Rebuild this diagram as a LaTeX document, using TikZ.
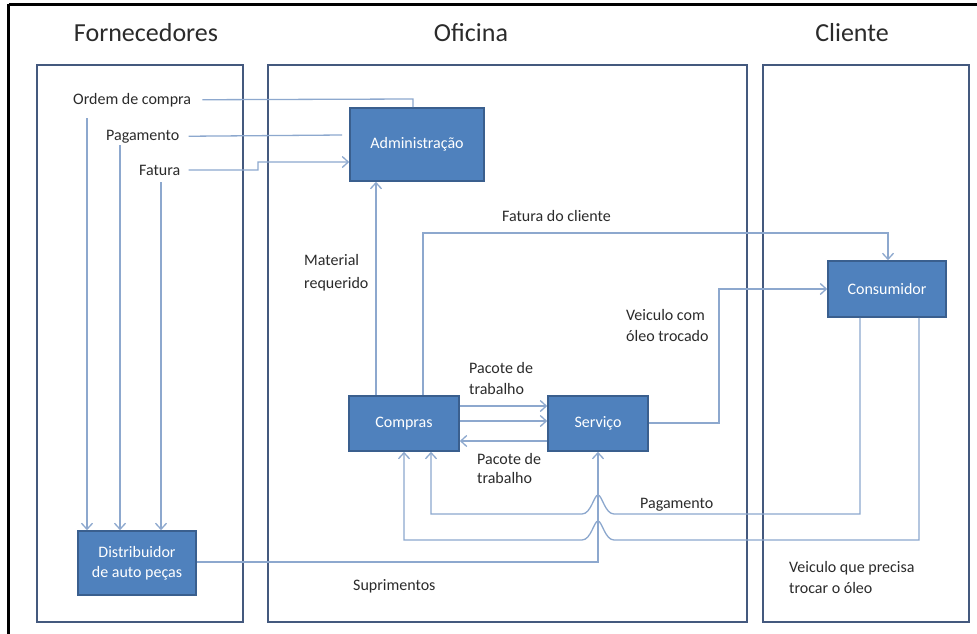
\documentclass[tikz,border=0pt]{standalone}
\usepackage{fontspec}
\setmainfont{Carlito}
\usetikzlibrary{arrows.meta}
\definecolor{framec}{HTML}{44597E}
\definecolor{boxfill}{HTML}{4F81BD}
\definecolor{boxline}{HTML}{3A5F8E}
\definecolor{linec}{HTML}{8DA8CE}
\definecolor{txt}{HTML}{2B2B2B}
\begin{document}
\begin{tikzpicture}[x=1pt,y=-1pt,
  frame/.style={draw=framec,line width=2.6pt},
  box/.style={draw=boxline,fill=boxfill,line width=1.6pt,text=white,font=\fontsize{16}{20}\selectfont,align=center,inner sep=0pt},
  conn/.style={draw=linec,line width=1.3pt},
  arr/.style={conn,-{Straight Barb[length=6pt,width=11pt]}},
  lbl/.style={text=txt,font=\fontsize{16}{20}\selectfont,inner sep=0pt,anchor=base west},
  ttl/.style={text=txt,font=\fontsize{26}{30}\selectfont,inner sep=0pt,anchor=base}]
\useasboundingbox (0,0) rectangle (977,634);
\fill[white] (0,0) rectangle (977,634);
% outer black border
\draw[line width=3pt] (8.5,4.5) -- (977,4.5);
\draw[line width=3pt] (8.5,4.5) -- (8.5,634);
% titles
\node[ttl] (tforn) at (146,42) {Fornecedores};
\node[ttl] (tofi) at (471,42) {Oficina};
\node[ttl] (tcli) at (852,42) {Cliente};
% frames
\draw[frame] (37,65) rectangle (243,622);
\draw[frame] (268,65) rectangle (747,622);
\draw[frame] (763,65) rectangle (969,622);
% boxes
\node[box,minimum width=134pt,minimum height=73pt] (adm) at (417,144.5) {Administração};
\node[box,minimum width=110pt,minimum height=55pt] (comp) at (404,423.5) {Compras};
\node[box,minimum width=100pt,minimum height=55pt] (serv) at (598,423.5) {Serviço};
\node[box,minimum width=118pt,minimum height=56pt] (cons) at (887,289) {Consumidor};
\node[box,minimum width=118pt,minimum height=64pt] (dist) at (137,563) {Distribuidor\\de auto peças};
% labels
\node[lbl] (ordem) at (73,104) {Ordem de compra};
\node[lbl] (pag) at (106,140) {Pagamento};
\node[lbl] (fat) at (139,175) {Fatura};
\node[lbl] (mat1) at (304,265) {Material};
\node[lbl] (mat2) at (304,288) {requerido};
\node[lbl] (fcli) at (502,221) {Fatura do cliente};
\node[lbl] (vc1) at (626,320) {Veiculo com};
\node[lbl] (vc2) at (626,341) {óleo trocado};
\node[lbl] (pa1) at (469,373) {Pacote de};
\node[lbl] (pa2) at (469,394) {trabalho};
\node[lbl] (pb1) at (477,464) {Pacote de};
\node[lbl] (pb2) at (477,483) {trabalho};
\node[lbl] (pagc) at (640,508) {Pagamento};
\node[lbl] (vq1) at (789,572) {Veiculo que precisa};
\node[lbl] (vq2) at (789,593) {trocar o óleo};
\node[lbl] (sup) at (353,590) {Suprimentos};
% helper coordinates
\coordinate (o1) at (87,118);
\coordinate (p1) at (120,145);
\coordinate (f1) at (161,182);
\coordinate (pend) at (342,135);
% supplier connectors
\draw[conn] ([xshift=11pt]ordem.east) -- (413,99) -- (adm.north -| 413,0);
\draw[conn] ([xshift=9pt]pag.east) -- (pend);
\draw[arr] ([xshift=8pt]fat.east) -- (258,170) -- (258,162) -- (adm.west |- 0,162);
\draw[arr] (o1) -- (dist.north -| o1);
\draw[arr] (p1) -- (dist.north -| p1);
\draw[arr] (f1) -- (dist.north -| f1);
% workshop connectors
\draw[arr] (comp.north -| 376,0) -- (adm.south -| 376,0);
\draw[arr] (comp.north -| 423,0) -- (423,233) -- (888,233) -- (cons.north -| 888,0);
\draw[arr] (serv.east |- 0,423) -- (719,423) -- (719,289) -- (cons.west);
\draw[arr] (comp.east |- 0,406) -- (serv.west |- 0,406);
\draw[arr] (comp.east |- 0,421) -- (serv.west |- 0,421);
\draw[arr] (serv.west |- 0,441) -- (comp.east |- 0,441);
\draw[arr] (dist.east |- 0,562) -- (598,562) -- (serv.south);
\draw[arr] (cons.south -| 860,0) -- (860,514) -- (614,514)
  .. controls (605,514) and (602,495) .. (598,495)
  .. controls (594,495) and (591,514) .. (582,514) -- (431,514) -- (comp.south -| 431,0);
\draw[arr] (cons.south -| 919,0) -- (919,540) -- (614,540)
  .. controls (605,540) and (602,521) .. (598,521)
  .. controls (594,521) and (591,540) .. (582,540) -- (404,540) -- (comp.south);
\end{tikzpicture}
\end{document}
